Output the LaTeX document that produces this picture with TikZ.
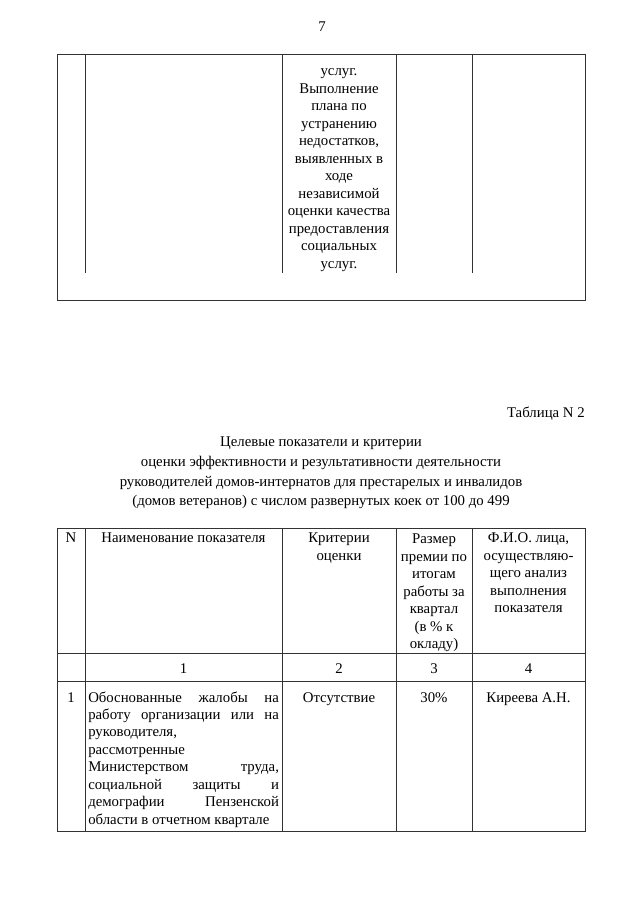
\documentclass[tikz,border=0pt]{standalone}
\usepackage{fontspec}
\setmainfont{Liberation Serif}
\begin{document}
\begin{tikzpicture}[x=0.75pt,y=-0.75pt,
  rule/.style={draw=black!80,line width=0.75pt},
  celltext/.style={font=\fontsize{11.1}{13.1}\selectfont,inner sep=0pt,anchor=north,align=center},
  lefttext/.style={font=\fontsize{11.1}{13.1}\selectfont,inner sep=0pt,anchor=north west,align=left},
  titletext/.style={font=\fontsize{11.1}{14.7}\selectfont,inner sep=0pt,anchor=north,align=center}
]
\useasboundingbox[fill=white] (0,0) rectangle (640,905);
\node[celltext] (pg) at (322,19.5) {\strut 7};

% ---- table 1 (continuation) ----
\draw[rule] (57,55) rectangle (585,300);
\foreach \x in {85,282,396,472} \draw[rule] (\x,55) -- (\x,273);
\node[celltext] (cont) at (339,63.5) {\strut услуг.\\Выполнение\\плана по\\устранению\\недостатков,\\выявленных в\\ходе\\независимой\\оценки качества\\предоставления\\социальных\\услуг.};

% ---- table 2 caption ----
\node[celltext,anchor=north east] (tabno) at (585,405) {\strut Таблица N 2};
\node[titletext] (title) at (321,433) {\strut Целевые показатели и критерии\\оценки эффективности и результативности деятельности\\руководителей домов-интернатов для престарелых и инвалидов\\(домов ветеранов) с числом развернутых коек от 100 до 499};

% ---- table 2 grid ----
\draw[rule] (57,528) rectangle (585,831);
\foreach \x in {85,282,396,472} \draw[rule] (\x,528) -- (\x,831);
\draw[rule] (57,653) -- (585,653);
\draw[rule] (57,681) -- (585,681);

% header
\node[celltext] (hN) at (71,530.5) {\strut N};
\node[celltext] (hname) at (183.5,530.5) {\strut Наименование показателя};
\node[celltext] (hcrit) at (339,530.5) {\strut Критерии\\оценки};
\node[celltext] (hsize) at (434,531.5) {\strut Размер\\премии по\\итогам\\работы за\\квартал\\(в \% к\\окладу)};
\node[celltext] (hfio) at (528.5,530.5) {\strut Ф.И.О. лица,\\осуществляю-\\щего анализ\\выполнения\\показателя};

% numbering row
\node[celltext] (n1) at (183.5,660.5) {\strut 1};
\node[celltext] (n2) at (339,660.5) {\strut 2};
\node[celltext] (n3) at (434,660.5) {\strut 3};
\node[celltext] (n4) at (528.5,660.5) {\strut 4};

% data row
\node[celltext] (r1n) at (71,689.5) {\strut 1};
\node[lefttext] (r1name) at (88,689.5) {%
\strut\hbox to 143pt{Обоснованные\hfill жалобы\hfill на}\\
\hbox to 143pt{работу\hfill организации\hfill или\hfill на}\\
руководителя,\\
рассмотренные\\
\hbox to 143pt{Министерством\hfill труда,}\\
\hbox to 143pt{социальной\hfill защиты\hfill и}\\
\hbox to 143pt{демографии\hfill Пензенской}\\
области в отчетном квартале};
\node[celltext] (r1crit) at (339,689.5) {\strut Отсутствие};
\node[celltext] (r1size) at (434,689.5) {\strut 30\%};
\node[celltext] (r1fio) at (528.5,689.5) {\strut Киреева А.Н.};
\end{tikzpicture}
\end{document}
